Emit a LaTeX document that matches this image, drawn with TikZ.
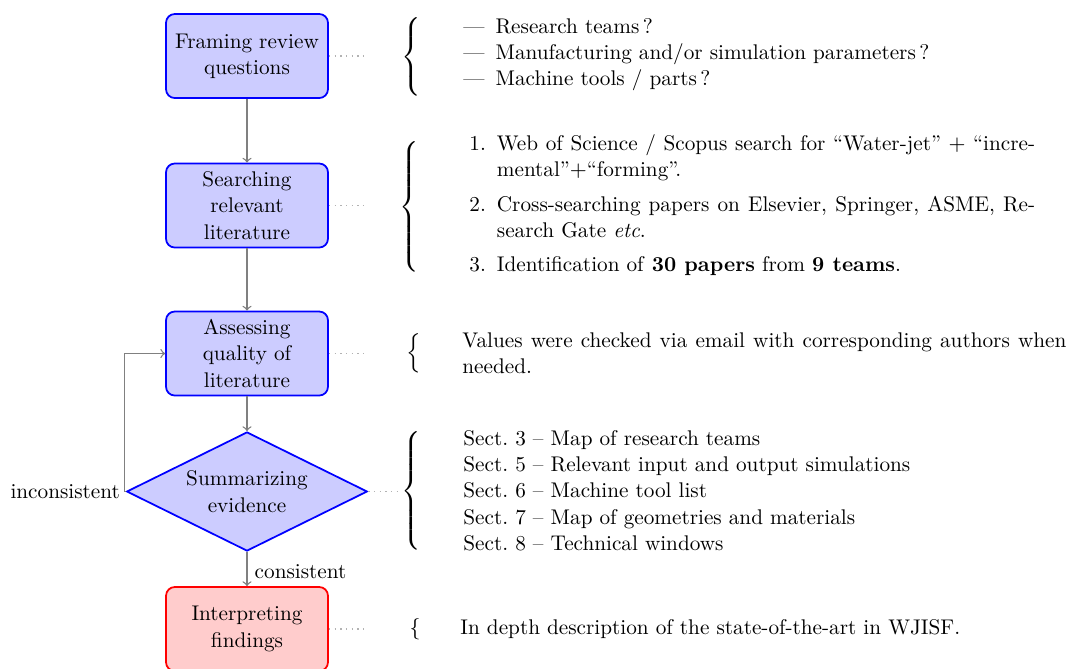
\documentclass[tikz,border=0pt]{standalone}
\usepackage{fix-cm}
\usetikzlibrary{shapes.geometric,calc}
\newcommand{\mybrace}[1]{$\left\{\vcenter{\hbox{\rule{0pt}{#1}}}\right.$}
\begin{document}
\fontsize{9.7}{12}\selectfont
\begin{tikzpicture}[x=0.457pt,y=-0.457pt,
 font=\fontsize{9.7}{12}\selectfont,
 box/.style={draw=blue,fill=blue!20,line width=0.8pt,rounded corners=4pt,minimum width=74pt,minimum height=38.4pt,align=center,inner sep=2pt},
 rbox/.style={box,draw=red,fill=red!20},
 dec/.style={diamond,aspect=2,draw=blue,fill=blue!20,line width=0.8pt,minimum width=110pt,minimum height=54.4pt,inner sep=0pt,align=center},
 arr/.style={->,draw=gray,line width=0.6pt},
 dots/.style={draw=gray!60,dotted,line width=0.6pt},
 brc/.style={inner sep=0pt},
 txt/.style={anchor=west,inner sep=0pt,align=left}]
\useasboundingbox (0,0) rectangle (1069,668);
% flow nodes
\node[box] (b1) at (247,56) {Framing review\\questions};
\node[box] (b2) at (247,205.5) {Searching\\relevant\\literature};
\node[box] (b3) at (247,353.5) {Assessing\\quality of\\literature};
\node[dec] (dia) at (247,491.5) {Summarizing\\evidence};
\node[rbox] (b5) at (247,629) {Interpreting\\findings};
% connectors
\draw[arr] (b1) -- (b2);
\draw[arr] (b2) -- (b3);
\draw[arr] (b3) -- (dia);
\draw[arr] (dia) -- node[right,black,yshift=-1pt]{consistent} (b5);
\draw[arr] (dia.west) -- ++(-1.5,0) node[left,black,xshift=1.5pt]{inconsistent} |- (b3.west);
% braces
\node[brc] (r1) at (413,57) {\mybrace{35pt}};
\node[brc] (r2) at (411,207) {\mybrace{64pt}};
\node[brc] (r3) at (414,353) {$\Big\{$};
\node[brc] (r4) at (413,491) {\mybrace{56pt}};
\node[brc] (r5) at (415,629) {$\{$};
% dotted links
\coordinate (d1) at (368,56);
\coordinate (d2) at (368,205.5);
\coordinate (d3) at (368,353.5);
\coordinate (d4) at (398,491.5);
\coordinate (d5) at (368,629);
\draw[dots] (b1) -- (d1);
\draw[dots] (b2) -- (d2);
\draw[dots] (b3) -- (d3);
\draw[dots] (dia) -- (d4);
\draw[dots] (b5) -- (d5);
% texts
\node[txt] (t1) at (463,54) {\begin{tabular}{@{}l@{\hspace{5pt}}l@{}}
--- & Research teams\,?\\
--- & Manufacturing and/or simulation parameters\,?\\
--- & Machine tools / parts\,?
\end{tabular}};
\node[txt] (t2) at (469,206) {\begin{tabular}{@{}r@{\hspace{5pt}}l@{}}
1. & \makebox[246pt][s]{Web of Science / Scopus search for ``Water-jet'' $+$ ``incre-}\\
 & mental''$+$``forming''.\\[3.7pt]
2. & \makebox[246pt][s]{Cross-searching papers on Elsevier, Springer, ASME, Re-}\\
 & search Gate \emph{etc}.\\[3.7pt]
3. & Identification of \textbf{30 papers} from \textbf{9 teams}.
\end{tabular}};
\node[txt] (t3) at (462,355) {\begin{tabular}{@{}l@{}}
\makebox[276pt][s]{Values were checked via email with corresponding authors when}\\
needed.
\end{tabular}};
\node[txt] (t4) at (463,492.5) {\begin{tabular}{@{}l@{}}
Sect.~3 -- Map of research teams\\
Sect.~5 -- Relevant input and output simulations\\
Sect.~6 -- Machine tool list\\
Sect.~7 -- Map of geometries and materials\\
Sect.~8 -- Technical windows
\end{tabular}};
\node[txt] (t5) at (460,629) {In depth description of the state-of-the-art in WJISF.};
\end{tikzpicture}
\end{document}
